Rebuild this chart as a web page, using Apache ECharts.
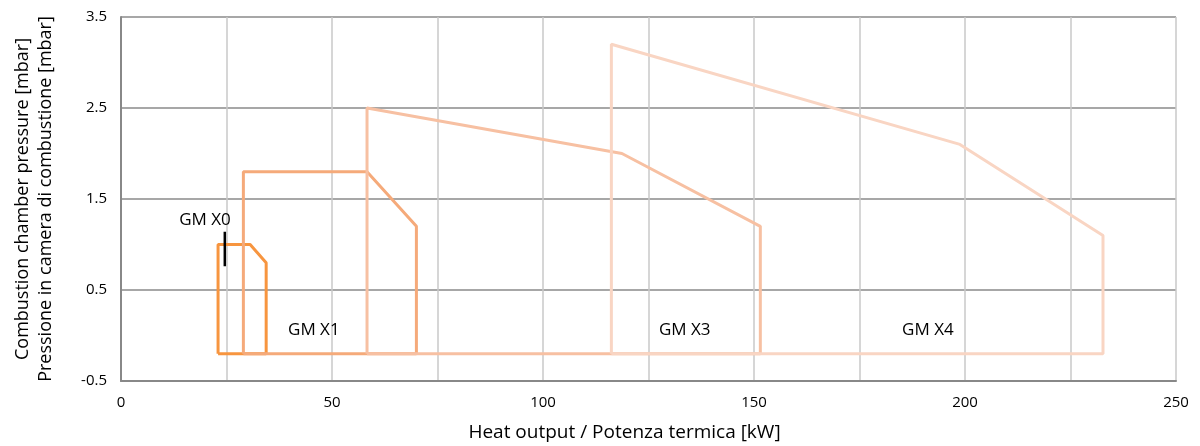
<!DOCTYPE html>
<html>
<head>
<meta charset="utf-8">
<script src="https://cdn.jsdelivr.net/npm/echarts@6/dist/echarts.min.js"></script>
<style>html,body{margin:0;padding:0;background:#fff}#c{width:1200px;height:446px}</style>
</head>
<body>
<div id="c"></div>
<script>
// Envelope outlines [heat output kW, pressure mbar]
const gmX0 = [[23,-0.2],[23,1.0],[30.6,1.0],[34.4,0.8],[34.4,-0.2],[23,-0.2]];
const gmX1 = [[29,-0.2],[29,1.8],[58.3,1.8],[70,1.2],[70,-0.2],[29,-0.2]];
const gmX3 = [[58.3,-0.2],[58.3,2.5],[118.7,2.0],[151.5,1.2],[151.5,-0.2],[58.3,-0.2]];
const gmX4 = [[116.2,-0.2],[116.2,3.2],[198.8,2.1],[232.7,1.1],[232.7,-0.2],[116.2,-0.2]];
const x0Marker = [[24.6,1.14],[24.6,0.76]];
const labelNames = ['GM X0','GM X1','GM X3','GM X4'];
const labelPos = [[19.9,1.27],[45.7,0.06],[133.6,0.06],[191.2,0.06]];
const seriesNames = ['GM X0','GM X1','GM X3','GM X4'];
const seriesData = [gmX0, gmX1, gmX3, gmX4];
const colors = ['#f7953f','#f5aa7a','#f7c0a2','#f9d5c3'];

const font = 'Open Sans';
const chart = echarts.init(document.getElementById('c'));
const series = seriesData.map((d,i)=>({
  name: seriesNames[i], type:'line', data:d, symbol:'none', z:2+i,
  lineStyle:{color:colors[i], width:3}, animation:false
}));
series.push({type:'line', data:x0Marker, symbol:'none', z:10, lineStyle:{color:'#000', width:2.5}, animation:false});
series.push({type:'scatter', symbolSize:1, z:11, animation:false, silent:true,
  itemStyle:{color:'rgba(0,0,0,0)'},
  data: labelPos.map((p,i)=>({value:p, name:labelNames[i]})),
  label:{show:true, position:'inside', formatter:p=>p.name, color:'#000', opacity:1, fontSize:17, fontFamily:font, textBorderWidth:0}});

chart.setOption({
  animation:false,
  grid:{left:121, right:24, top:17, bottom:65, containLabel:false, outerBoundsMode:'none'},
  xAxis:{type:'value', min:0, max:250, interval:25,
    name:'Heat output / Potenza termica [kW]', nameLocation:'middle', nameGap:42,
    nameTextStyle:{fontSize:19, color:'#000', fontFamily:font, padding:[0,48,0,0]},
    axisLine:{show:true, onZero:false, lineStyle:{color:'#888', width:2}}, axisTick:{show:false},
    axisLabel:{color:'#000', fontSize:15, fontFamily:font, margin:14,
      formatter:v=> (v%50===0 ? String(v) : '')},
    splitLine:{show:true, lineStyle:{color:'#c8c8c8', width:1.5}}},
  yAxis:{type:'value', min:-0.5, max:3.5, interval:1,
    name:'Combustion chamber pressure [mbar]\nPressione in camera di combustione [mbar]',
    nameLocation:'middle', nameGap:64, nameRotate:90,
    nameTextStyle:{fontSize:18, color:'#000', fontFamily:font, lineHeight:23},
    axisLine:{show:true, onZero:false, lineStyle:{color:'#888', width:2}}, axisTick:{show:false},
    axisLabel:{color:'#000', fontSize:15, fontFamily:font, margin:14},
    splitLine:{show:true, lineStyle:{color:'#8a8a8a', width:1.5}}},
  series: series
});
</script>
</body>
</html>
